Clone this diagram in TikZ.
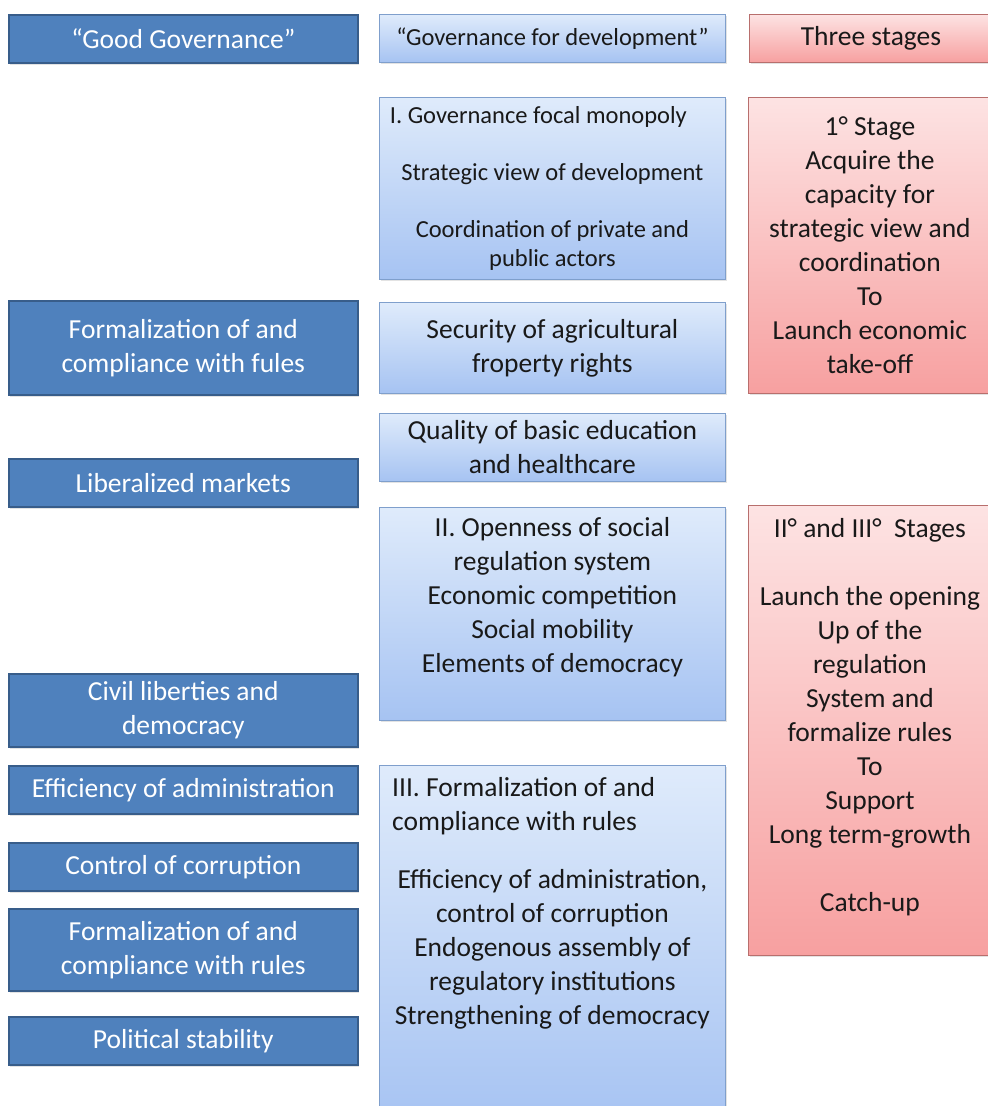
\documentclass[tikz,border=0pt]{standalone}
\usepackage{fontspec}
\setmainfont{Carlito}
\usetikzlibrary{positioning,shadows}

\definecolor{govfill}{HTML}{4F81BD}
\definecolor{govedge}{HTML}{385D8A}
\definecolor{devtop}{HTML}{DFEBFB}
\definecolor{devbot}{HTML}{A6C3F2}
\definecolor{devedge}{HTML}{7F9FCC}
\definecolor{stagetop}{HTML}{FDE3E3}
\definecolor{stagebot}{HTML}{F7A0A0}
\definecolor{stageedge}{HTML}{B86F6D}

\begin{document}
\begin{tikzpicture}[
      x=1pt, y=-1pt,
      font=\fontsize{27.5}{34}\selectfont,
      softshadow/.style={drop shadow={opacity=0.22, shadow xshift=1.5pt, shadow yshift=-2pt}},
      good/.style={draw=govedge, line width=1.6pt, fill=govfill, text=white, align=center,
        minimum width=349pt, anchor=north west, inner sep=0pt, softshadow},
      dev/.style={draw=devedge, line width=0.8pt, top color=devtop, bottom color=devbot, text=black!90,
        align=center, minimum width=346pt, anchor=north west, inner sep=0pt, softshadow},
      stage/.style={draw=stageedge, line width=0.8pt, top color=stagetop, bottom color=stagebot, text=black!90,
        align=center, minimum width=243pt, anchor=north west, inner sep=0pt, softshadow},
      label/.style={inner sep=0pt, text=black!90},
      small/.style={font=\fontsize{24.5}{29}\selectfont}
    ]
      \useasboundingbox[fill=white] (0,0) rectangle (988,1106);

      % left column: "good governance"
      \node[good, minimum height=48pt] (good0) at (8,14) {“Good Governance”};
      \node[good, minimum height=94pt] (good1) at (8,300) {Formalization of and\\compliance with fules};
      \node[good, minimum height=48pt] (good2) at (8,458) {Liberalized markets};
      \node[good, minimum height=73pt] (good3) at (8,673) {Civil liberties and\\democracy};
      \node[good, minimum height=48pt] (good4) at (8,765) {Efficiency of administration};
      \node[good, minimum height=48pt] (good5) at (8,842) {Control of corruption};
      \node[good, minimum height=82pt] (good6) at (8,908) {Formalization of and\\compliance with rules};
      \node[good, minimum height=48pt] (good7) at (8,1016) {Political stability};

      % middle column: governance for development
      \node[dev, small, minimum height=48pt] (dev0) at (379,14) {“Governance for development”};
      \node[dev, small, minimum height=182pt] (devI) at (379,97)
        {\hspace*{-28pt}I. Governance focal monopoly\\[28pt] Strategic view of development\\[28pt]
         Coordination of private and\\public actors};
      \node[dev, minimum height=91pt] (devsec) at (379,302) {Security of agricultural\\froperty rights};
      \node[dev, minimum height=68pt] (devqual) at (379,413) {Quality of basic education\\and healthcare};
      \node[dev, minimum height=213pt] (devII) at (379,507) {};
      \node[label, align=center, below=10pt of devII.north] (devIItext)
        {II. Openness of social\\regulation system\\Economic competition\\Social mobility\\Elements of democracy};
      \node[dev, minimum height=360pt] (devIII) at (379,765) {};
      \node[label, align=left, anchor=north west] (devIIIhead) at ([xshift=13pt, yshift=-12pt]devIII.north west)
        {III. Formalization of and\\compliance with rules};
      \node[label, align=center, below=104pt of devIII.north] (devIIIbody)
        {Efficiency of administration,\\control of corruption\\Endogenous assembly of\\regulatory institutions\\Strengthening of democracy};

      % right column: stages
      \node[stage, minimum height=48pt] (stage0) at (749,14) {Three stages};
      \node[stage, minimum height=296pt] (stageI) at (748,97)
        {1° Stage\\Acquire the\\capacity for\\strategic view and\\coordination\\To\\Launch economic\\take-off};
      \node[stage, minimum height=450pt] (stageII) at (748,505) {};
      \node[label, align=center, below=13pt of stageII.north] (stageIItext)
        {II° and III°~ Stages\\[34pt]Launch the opening\\Up of the\\regulation\\System and\\formalize rules\\To\\Support\\Long term-growth\\[34pt]Catch-up};
    \end{tikzpicture}
\end{document}
